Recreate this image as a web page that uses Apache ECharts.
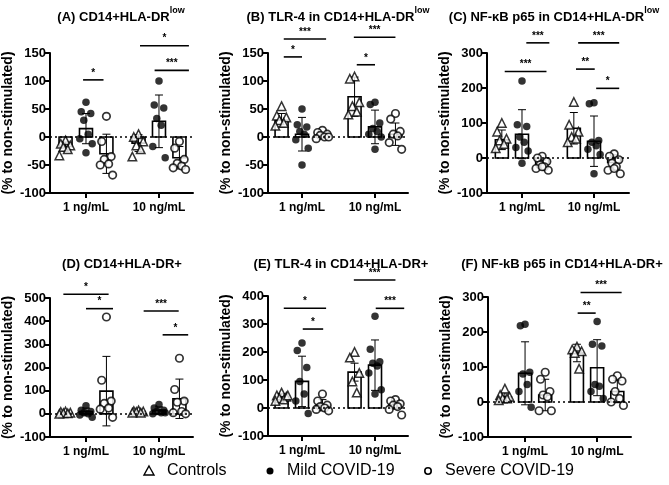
<!DOCTYPE html>
<html><head><meta charset="utf-8">
<script src="https://cdn.jsdelivr.net/npm/echarts@6/dist/echarts.min.js"></script>
<style>html,body{margin:0;padding:0;background:#fff}#c{width:669px;height:485px}</style>
</head><body><div id="c"></div><script>
// ---------- DATA ----------
const categories = ['1 ng/mL', '10 ng/mL'];
const groups = ['Controls', 'Mild COVID-19', 'Severe COVID-19'];
const panelTitles = ['(A) CD14+HLA-DR', '(B) TLR-4 in CD14+HLA-DR', '(C) NF-\u03baB p65 in CD14+HLA-DR',
  '(D) CD14+HLA-DR+', '(E) TLR-4 in CD14+HLA-DR+', '(F) NF-kB p65 in CD14+HLA-DR+'];
const titleSup = ['low', 'low', 'low', '', '', ''];
const yAxisName = '(% to non-stimulated)';
const yMin = [-100, -100, -100, -100, -100, -100];
const yMax = [150, 150, 300, 500, 400, 300];
const yStep = [50, 50, 100, 100, 100, 100];

// each: [1 ng/mL points, 10 ng/mL points]
const A_controls = [[-6, -12, -15, -18, -22, -33], [5, 0, -8, -15, -22, -35]];
const A_mild = [[62, 45, 42, 30, 5, -3, -12, -28], [100, 57, 52, 33, 21, -17, -37]];
const A_severe = [[37, -8, -35, -40, -48, -50, -68], [-8, -20, -40, -47, -52, -55, -58]];
const A_mean = [[-17, 15, -30], [-11, 28, -37]];
const A_sd = [[8, 27, 35], [15, 47, 20]];
const A_sig = [[0, -0.04, 0.24, 102, '*'], [1, -0.26, 0.41, 163, '*'], [1, -0.06, 0.41, 119, '***']];

const B_controls = [[55, 38, 35, 30, 25, 20], [108, 104, 62, 55, 45, 40]];
const B_mild = [[50, 22, 18, 10, 5, -5, -20, -50], [62, 58, 25, 15, 10, 5, 0, -22]];
const B_severe = [[12, 8, 5, 3, 0, -3, 0], [42, 32, 10, 5, 2, -10, -22]];
const B_mean = [[30, 5, 3], [72, 18, 5]];
const B_sd = [[12, 30, 6], [35, 30, 20]];
const B_sig = [[0, -0.25, 0.0, 143, '*'], [0, -0.25, 0.33, 175, '***'], [1, -0.25, 0.0, 129, '*'], [1, -0.29, 0.28, 178, '***']];

const C_controls = [[100, 75, 55, 50, 40, 28], [160, 95, 75, 60, 55, 45]];
const C_mild = [[220, 95, 90, 60, 45, 30, 20, -15], [158, 155, 50, 45, 35, 25, 10, -45]];
const C_severe = [[5, 0, -10, -20, -25, -30, -35, -25], [12, 5, -5, -15, -25, -35, -45, -30]];
const C_mean = [[52, 68, -18], [85, 48, -13]];
const C_sd = [[28, 70, 12], [45, 72, 22]];
const C_sig = [[0, 0.06, 0.38, 329, '***'], [0, -0.24, 0.34, 247, '***'], [1, -0.25, 0.01, 254, '**'], [1, -0.22, 0.35, 329, '***'], [1, 0.03, 0.35, 199, '*']];

const D_controls = [[10, 8, 5, 3, 2, 0], [15, 12, 10, 8, 5, 5]];
const D_mild = [[35, 15, 10, 5, 0, -5, -15], [40, 25, 15, 10, 5, 0, 5]];
const D_severe = [[418, 145, 55, 45, 25, 20, -15], [240, 105, 55, 50, 10, 5, 0]];
const D_mean = [[5, 10, 98], [10, 15, 65]];
const D_sd = [[4, 15, 150], [4, 15, 85]];
const D_sig = [[0, -0.31, 0.31, 516, '*'], [0, 0.0, 0.37, 454, '*'], [1, -0.21, 0.27, 444, '***'], [1, 0.05, 0.4, 341, '*']];

const E_controls = [[55, 45, 40, 35, 30, 25, 45], [200, 180, 125, 95, 55]];
const E_mild = [[232, 205, 145, 95, 50, 25, -20], [328, 210, 165, 160, 150, 125, 65, 50]];
const E_severe = [[50, 25, 10, 5, 0, -5, -10], [30, 25, 15, 10, 5, -5, -25]];
const E_mean = [[40, 95, 10], [128, 153, 12]];
const E_sd = [[11, 90, 20], [32, 90, 15]];
const E_sig = [[0, -0.25, 0.33, 356, '*'], [0, 0.01, 0.29, 282, '*'], [1, -0.29, 0.28, 457, '***'], [1, 0.01, 0.4, 356, '***']];

const F_controls = [[38, 20, 15, 10, 10, 5], [158, 150, 145, 140, 95]];
const F_mild = [[222, 218, 85, 80, 50, 30, -15], [230, 165, 160, 50, 45, 30, 10]];
const F_severe = [[85, 65, 30, 20, 15, -25, -25], [75, 65, 60, 30, 10, 0, -10]];
const F_mean = [[15, 82, 20], [140, 98, 30]];
const F_sd = [[12, 90, 45], [25, 80, 32]];
const F_sig = [[1, -0.27, -0.02, 254, '**'], [1, -0.23, 0.34, 313, '***']];

// ---------- LAYOUT / STYLE ----------
const panelData = [
  [A_controls, A_mild, A_severe, A_mean, A_sd, A_sig],
  [B_controls, B_mild, B_severe, B_mean, B_sd, B_sig],
  [C_controls, C_mild, C_severe, C_mean, C_sd, C_sig],
  [D_controls, D_mild, D_severe, D_mean, D_sd, D_sig],
  [E_controls, E_mild, E_severe, E_mean, E_sd, E_sig],
  [F_controls, F_mild, F_severe, F_mean, F_sd, F_sig]
];
const layout = [
  {left: 50, top: 53, w: 143, h: 140, xmin: 0.507, xmax: 2.466, tx: 121, ty: 15},
  {left: 268, top: 53, w: 140, h: 140, xmin: 0.534, xmax: 2.452, tx: 338, ty: 15},
  {left: 487, top: 53, w: 142, h: 140, xmin: 0.514, xmax: 2.486, tx: 554, ty: 15},
  {left: 50, top: 298, w: 143, h: 139, xmin: 0.507, xmax: 2.466, tx: 122, ty: 262},
  {left: 268, top: 296, w: 140, h: 140, xmin: 0.534, xmax: 2.452, tx: 341, ty: 262},
  {left: 488, top: 297, w: 143, h: 140, xmin: 0.486, xmax: 2.47, tx: 562, ty: 262}
];
const FONT = "'Liberation Sans', Arial, Helvetica, sans-serif";
const groupOffset = [-0.28, 0, 0.28];
const spread = [0, -0.065, 0.065, -0.03, 0.03, -0.085, 0.085, 0.0];
const symbols = [
  {symbol: 'triangle', symbolSize: 8.5, itemStyle: {color: '#fff', borderColor: '#000', borderWidth: 1.5}},
  {symbol: 'circle', symbolSize: 7.5, itemStyle: {color: '#000', borderColor: '#000', borderWidth: 0}},
  {symbol: 'circle', symbolSize: 7.5, itemStyle: {color: '#fff', borderColor: '#000', borderWidth: 1.7}}
];

const grids = [], xAxes = [], yAxes = [], series = [], graphics = [];
layout.forEach((L, i) => {
  grids.push({left: L.left, top: L.top, width: L.w, height: L.h, containLabel: false});
  xAxes.push({
    type: 'value', gridIndex: i, min: L.xmin, max: L.xmax,
    axisLine: {show: true, onZero: false, lineStyle: {color: '#000', width: 2}},
    axisTick: {show: true, customValues: [1, 2], length: 5, lineStyle: {color: '#000', width: 2}},
    axisLabel: {show: true, customValues: [1, 2], formatter: v => categories[Math.round(v) - 1],
      color: '#000', fontWeight: 'bold', fontSize: 12, fontFamily: FONT, margin: 9},
    splitLine: {show: false}
  });
  yAxes.push({
    type: 'value', gridIndex: i, min: yMin[i], max: yMax[i], interval: yStep[i],
    name: yAxisName, nameLocation: 'middle', nameGap: 35, nameRotate: 90,
    nameTextStyle: {color: '#000', fontWeight: 'bold', fontSize: 14, fontFamily: FONT},
    axisLine: {show: true, onZero: false, lineStyle: {color: '#000', width: 2}},
    axisTick: {show: true, length: 5, lineStyle: {color: '#000', width: 2}},
    axisLabel: {color: '#000', fontWeight: 'bold', fontSize: 13, fontFamily: FONT, margin: 4},
    splitLine: {show: false}
  });
  const [pc, pm, ps, mean, sd, sig] = panelData[i];
  const pts = [pc, pm, ps];
  const barData = [], errData = [];
  for (let c = 0; c < 2; c++) for (let g = 0; g < 3; g++) {
    const x = c + 1 + groupOffset[g];
    barData.push([x, mean[c][g]]);
    errData.push([x, mean[c][g], sd[c][g]]);
  }
  series.push({
    type: 'custom', xAxisIndex: i, yAxisIndex: i, z: 1, clip: false, silent: true,
    data: barData, encode: {x: 0, y: 1},
    renderItem: (params, api) => {
      const x = api.value(0), m = api.value(1);
      const p = api.coord([x, m]), z = api.coord([x, 0]);
      const hw = 6.5;
      return {type: 'rect', shape: {x: p[0] - hw, y: Math.min(p[1], z[1]), width: hw * 2, height: Math.abs(p[1] - z[1])},
        style: {fill: '#fff', stroke: '#000', lineWidth: 1.6}};
    }
  });
  series.push({
    type: 'custom', xAxisIndex: i, yAxisIndex: i, z: 3, clip: false, silent: true,
    data: errData, encode: {x: 0, y: 1},
    renderItem: (params, api) => {
      const x = api.value(0), m = api.value(1), s = api.value(2);
      const t = api.coord([x, m + s]), b = api.coord([x, m - s]);
      const cw = 4, st = {stroke: '#000', lineWidth: 1};
      return {type: 'group', children: [
        {type: 'line', shape: {x1: t[0], y1: t[1], x2: b[0], y2: b[1]}, style: st},
        {type: 'line', shape: {x1: t[0] - cw, y1: t[1], x2: t[0] + cw, y2: t[1]}, style: st},
        {type: 'line', shape: {x1: b[0] - cw, y1: b[1], x2: b[0] + cw, y2: b[1]}, style: st}
      ]};
    }
  });
  for (let g = 0; g < 3; g++) {
    const d = [];
    for (let c = 0; c < 2; c++) pts[g][c].forEach((v, k) => d.push([c + 1 + groupOffset[g] + spread[k % spread.length], v]));
    const s = Object.assign({
      type: 'scatter', name: groups[g], xAxisIndex: i, yAxisIndex: i, z: 4, data: d, silent: true
    }, symbols[g]);
    if (g === 0) {
      s.markLine = {silent: true, symbol: 'none', label: {show: false}, animation: false,
        lineStyle: {type: [2, 3], color: '#000', width: 1.5}, data: [{yAxis: 0}]};
    }
    series.push(s);
  }
  series.push({
    type: 'custom', xAxisIndex: i, yAxisIndex: i, z: 5, clip: false, silent: true,
    data: sig.map(s => [s[0] + 1 + s[1], s[3]]), encode: {x: 0, y: 1},
    renderItem: (params, api) => {
      const s = sig[params.dataIndex];
      const a = api.coord([s[0] + 1 + s[1], s[3]]), b = api.coord([s[0] + 1 + s[2], s[3]]);
      return {type: 'group', children: [
        {type: 'line', shape: {x1: a[0], y1: a[1], x2: b[0], y2: b[1]}, style: {stroke: '#000', lineWidth: 1.6}},
        {type: 'text', x: (a[0] + b[0]) / 2, y: a[1] - 2,
          style: {text: s[4], align: 'center', verticalAlign: 'bottom', font: 'bold 10px ' + FONT, fill: '#000'}}
      ]};
    }
  });
  const sup = titleSup[i];
  graphics.push({
    type: 'text', x: L.tx, y: L.ty,
    style: {
      text: '{b|' + panelTitles[i] + '}' + (sup ? '{s|' + sup + '}' : ''),
      align: 'center', verticalAlign: 'middle',
      rich: {
        b: {fontSize: 13, fontWeight: 'bold', fontFamily: FONT, fill: '#000', lineHeight: 18, verticalAlign: 'bottom'},
        s: {fontSize: 9, fontWeight: 'bold', fontFamily: FONT, fill: '#000', verticalAlign: 'top', lineHeight: 18}
      }
    }
  });
});

// legend (drawn as graphic items)
const LY = 471;
const legendIcons = [
  {type: 'polygon', shape: {points: [[149, LY - 5], [154, LY + 4], [144, LY + 4]]}, style: {fill: '#fff', stroke: '#000', lineWidth: 1.4}},
  {type: 'circle', shape: {cx: 270, cy: LY, r: 3.5}, style: {fill: '#000'}},
  {type: 'circle', shape: {cx: 428, cy: LY, r: 3.2}, style: {fill: '#fff', stroke: '#000', lineWidth: 1.6}}
];
const legendTextX = [167, 287, 445];
legendIcons.forEach(ic => graphics.push(Object.assign({silent: true}, ic)));
groups.forEach((g, k) => graphics.push({
  type: 'text', x: legendTextX[k], y: LY,
  style: {text: g, align: 'left', verticalAlign: 'middle', font: '16px ' + FONT, fill: '#000'}
}));

const chart = echarts.init(document.getElementById('c'), null, {renderer: 'canvas'});
chart.setOption({
  backgroundColor: '#fff', animation: false,
  grid: grids, xAxis: xAxes, yAxis: yAxes, series: series, graphic: graphics
});
</script></body></html>
